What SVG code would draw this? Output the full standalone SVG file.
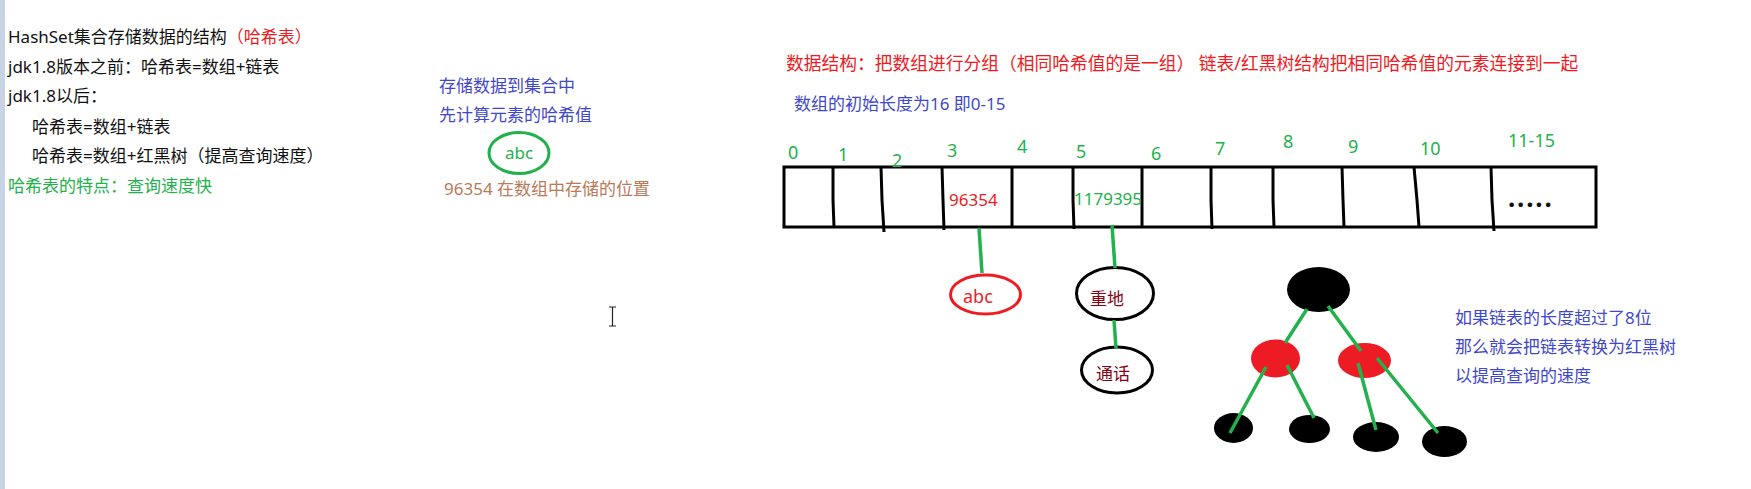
<svg xmlns="http://www.w3.org/2000/svg" width="1751" height="489" viewBox="0 0 1751 489">
<style>
text{font-family:"Noto Sans","Noto Sans CJK SC",sans-serif;font-size:17px}
.k{fill:#111}
.r{fill:#ed1c24}
.g{fill:#22b14c}
.b{fill:#3f48cc}
.br{fill:#b97a57}
.dr{fill:#880015}
.idx{fill:#22b14c;font-size:18px}
.gl{stroke:#22b14c;stroke-width:3.5;fill:none;stroke-linecap:butt}
.arr{stroke:#000;stroke-width:3;fill:none}
</style>
<rect x="0" y="0" width="1751" height="489" fill="#fff"/>
<rect x="0" y="0" width="5" height="489" fill="#c9d3e6"/>

<g id="notes-left">
<text x="8" y="43" class="k">HashSet集合存储数据的结构<tspan class="r">（哈希表）</tspan></text>
<text x="8" y="73" class="k">jdk1.8版本之前：哈希表=数组+链表</text>
<text x="8" y="102" class="k">jdk1.8以后：</text>
<text x="32" y="133" class="k">哈希表=数组+链表</text>
<text x="32" y="162" class="k">哈希表=数组+红黑树（提高查询速度）</text>
<text x="8" y="192" class="g">哈希表的特点：查询速度快</text>
</g>

<g id="notes-middle">
<text x="439" y="92" class="b">存储数据到集合中</text>
<text x="439" y="121" class="b">先计算元素的哈希值</text>
<text x="444" y="195" class="br">96354 在数组中存储的位置</text>
</g>

<g id="node-abc-green">
<ellipse cx="519" cy="153" rx="30" ry="20.5" fill="none" stroke="#22b14c" stroke-width="3"/>
<text x="519" y="159" class="g" text-anchor="middle">abc</text>
</g>

<g id="notes-right">
<text x="786" y="70" class="r" style="font-size:17.75px">数据结构：把数组进行分组（相同哈希值的是一组） 链表/红黑树结构把相同哈希值的元素连接到一起</text>
<text x="794" y="110" class="b">数组的初始长度为16 即0-15</text>
</g>

<g id="array">
<rect x="784" y="167" width="812" height="60" class="arr"/>
<path class="arr" d="M833 167 L833 200 L834 227 M881 167 L882 200 L884 232 M942 167 L943 200 L944 230 M1012 167 L1012 227 M1073 167 L1073 200 L1074 229 M1142 167 L1142 227 M1211 167 L1211 200 L1212 229 M1273 167 L1273 200 L1274 227 M1342 167 L1343 200 L1344 227 M1414 167 L1417 200 L1419 227 M1491 167 L1492 200 L1494 231"/>
<text x="788" y="159" class="idx">0</text>
<text x="838" y="161" class="idx">1</text>
<text x="892" y="167" class="idx">2</text>
<text x="947" y="157" class="idx">3</text>
<text x="1017" y="153" class="idx">4</text>
<text x="1076" y="158" class="idx">5</text>
<text x="1151" y="160" class="idx">6</text>
<text x="1215" y="155" class="idx">7</text>
<text x="1283" y="148" class="idx">8</text>
<text x="1348" y="153" class="idx">9</text>
<text x="1420" y="155" class="idx">10</text>
<text x="1508" y="147" class="idx">11-15</text>
<text x="949" y="206" class="r">96354</text>
<text x="1074" y="205" class="g">1179395</text>
<text x="1508" y="207" style="font-size:26px;font-weight:bold;letter-spacing:1.8px" fill="#111">.....</text>
</g>

<g id="node-abc-red">
<ellipse cx="985.5" cy="294.5" rx="35" ry="19.5" fill="none" stroke="#ed1c24" stroke-width="3"/>
<text x="963" y="303" class="r" style="font-size:18px">abc</text>
</g>

<g id="node-zhongdi">
<ellipse cx="1115" cy="293.5" rx="38.5" ry="26" fill="none" stroke="#000" stroke-width="3"/>
<text x="1090" y="305" class="dr">重地</text>
</g>

<g id="node-tonghua">
<ellipse cx="1117" cy="370" rx="35.5" ry="23" fill="none" stroke="#000" stroke-width="3"/>
<text x="1096" y="380" class="dr">通话</text>
</g>

<g id="tree-root"><ellipse cx="1318.5" cy="289.5" rx="31.5" ry="22.5" fill="#000"/></g>
<g id="tree-red-left"><ellipse cx="1275.5" cy="358.5" rx="24.5" ry="19" fill="#ed1c24"/></g>
<g id="tree-red-right"><ellipse cx="1364.5" cy="360.5" rx="26.5" ry="17.5" fill="#ed1c24"/></g>
<g id="tree-leaf-1"><ellipse cx="1233.5" cy="428" rx="19.5" ry="15" fill="#000"/></g>
<g id="tree-leaf-2"><ellipse cx="1309.5" cy="429" rx="20.5" ry="14" fill="#000"/></g>
<g id="tree-leaf-3"><ellipse cx="1376" cy="437" rx="23" ry="15" fill="#000"/></g>
<g id="tree-leaf-4"><ellipse cx="1444.5" cy="441.5" rx="22.5" ry="15.5" fill="#000"/></g>

<g id="connectors">
<path class="gl" d="M979 228 L982 273"/>
<path class="gl" d="M1112 225 L1115 268"/>
<path class="gl" d="M1114 320 L1116 348"/>
<path class="gl" d="M1307 309 L1285 343"/>
<path class="gl" d="M1328 306 L1361 351"/>
<path class="gl" d="M1266 367 L1230 433"/>
<path class="gl" d="M1287 365 L1314 418"/>
<path class="gl" d="M1358 363 L1376 430"/>
<path class="gl" d="M1377 358 L1438 433"/>
</g>

<g id="notes-tree">
<text x="1455" y="324" class="b">如果链表的长度超过了8位</text>
<text x="1455" y="353" class="b">那么就会把链表转换为红黑树</text>
<text x="1455" y="382" class="b">以提高查询的速度</text>
</g>

<path d="M609 307 H616 M612.5 307 V326 M609 326 H616" stroke="#222" stroke-width="1.2" fill="none"/>
</svg>
